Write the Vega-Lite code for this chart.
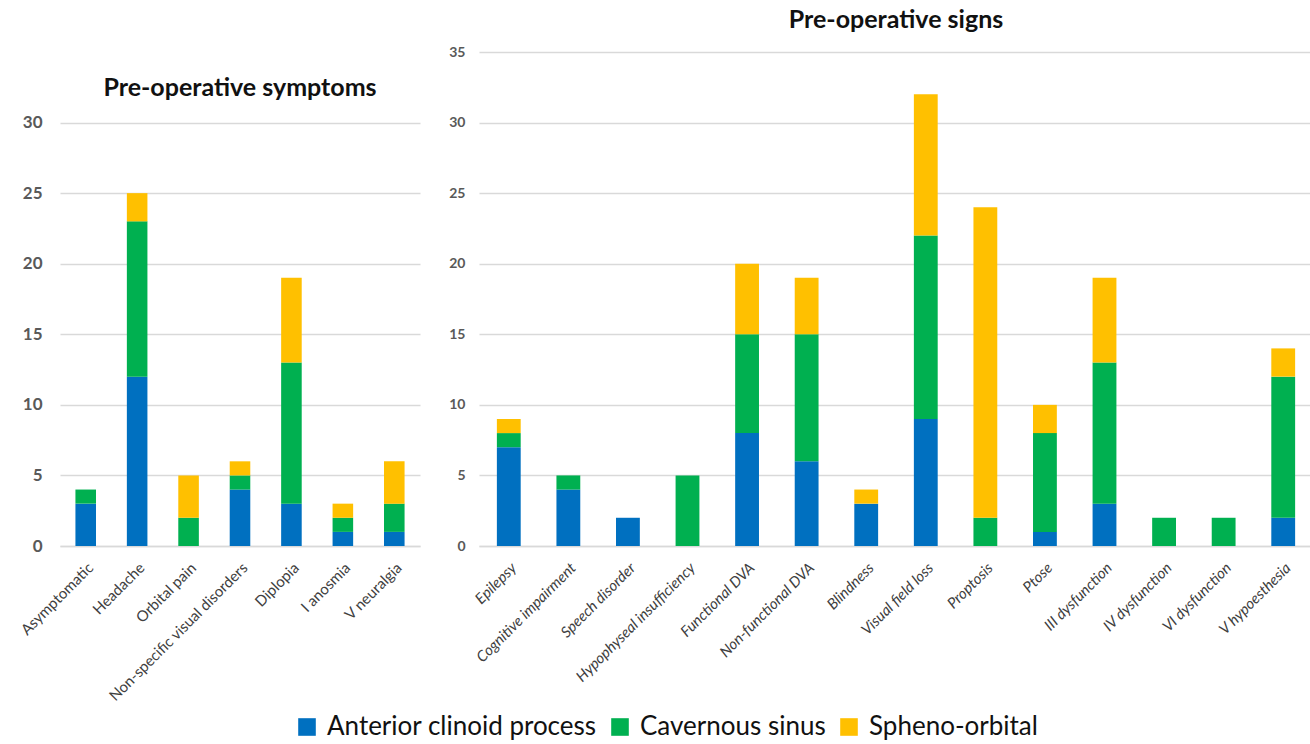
{
  "$schema": "https://vega.github.io/schema/vega-lite/v6.json",
  "background": "white",
  "padding": {"left": 18, "top": 8, "right": 0, "bottom": 0},
  "datasets": {
    "symptoms": [
      {"item": "Asymptomatic", "location": "Anterior clinoid process", "n": 3},
      {"item": "Asymptomatic", "location": "Cavernous sinus", "n": 1},
      {"item": "Asymptomatic", "location": "Spheno-orbital", "n": 0},
      {"item": "Headache", "location": "Anterior clinoid process", "n": 12},
      {"item": "Headache", "location": "Cavernous sinus", "n": 11},
      {"item": "Headache", "location": "Spheno-orbital", "n": 2},
      {"item": "Orbital pain", "location": "Anterior clinoid process", "n": 0},
      {"item": "Orbital pain", "location": "Cavernous sinus", "n": 2},
      {"item": "Orbital pain", "location": "Spheno-orbital", "n": 3},
      {"item": "Non-specific visual disorders", "location": "Anterior clinoid process", "n": 4},
      {"item": "Non-specific visual disorders", "location": "Cavernous sinus", "n": 1},
      {"item": "Non-specific visual disorders", "location": "Spheno-orbital", "n": 1},
      {"item": "Diplopia", "location": "Anterior clinoid process", "n": 3},
      {"item": "Diplopia", "location": "Cavernous sinus", "n": 10},
      {"item": "Diplopia", "location": "Spheno-orbital", "n": 6},
      {"item": "I anosmia", "location": "Anterior clinoid process", "n": 1},
      {"item": "I anosmia", "location": "Cavernous sinus", "n": 1},
      {"item": "I anosmia", "location": "Spheno-orbital", "n": 1},
      {"item": "V neuralgia", "location": "Anterior clinoid process", "n": 1},
      {"item": "V neuralgia", "location": "Cavernous sinus", "n": 2},
      {"item": "V neuralgia", "location": "Spheno-orbital", "n": 3}
    ],
    "signs": [
      {"item": "Epilepsy", "location": "Anterior clinoid process", "n": 7},
      {"item": "Epilepsy", "location": "Cavernous sinus", "n": 1},
      {"item": "Epilepsy", "location": "Spheno-orbital", "n": 1},
      {"item": "Cognitive impairment", "location": "Anterior clinoid process", "n": 4},
      {"item": "Cognitive impairment", "location": "Cavernous sinus", "n": 1},
      {"item": "Cognitive impairment", "location": "Spheno-orbital", "n": 0},
      {"item": "Speech disorder", "location": "Anterior clinoid process", "n": 2},
      {"item": "Speech disorder", "location": "Cavernous sinus", "n": 0},
      {"item": "Speech disorder", "location": "Spheno-orbital", "n": 0},
      {"item": "Hypophyseal insufficiency", "location": "Anterior clinoid process", "n": 0},
      {"item": "Hypophyseal insufficiency", "location": "Cavernous sinus", "n": 5},
      {"item": "Hypophyseal insufficiency", "location": "Spheno-orbital", "n": 0},
      {"item": "Functional DVA", "location": "Anterior clinoid process", "n": 8},
      {"item": "Functional DVA", "location": "Cavernous sinus", "n": 7},
      {"item": "Functional DVA", "location": "Spheno-orbital", "n": 5},
      {"item": "Non-functional DVA", "location": "Anterior clinoid process", "n": 6},
      {"item": "Non-functional DVA", "location": "Cavernous sinus", "n": 9},
      {"item": "Non-functional DVA", "location": "Spheno-orbital", "n": 4},
      {"item": "Blindness", "location": "Anterior clinoid process", "n": 3},
      {"item": "Blindness", "location": "Cavernous sinus", "n": 0},
      {"item": "Blindness", "location": "Spheno-orbital", "n": 1},
      {"item": "Visual field loss", "location": "Anterior clinoid process", "n": 9},
      {"item": "Visual field loss", "location": "Cavernous sinus", "n": 13},
      {"item": "Visual field loss", "location": "Spheno-orbital", "n": 10},
      {"item": "Proptosis", "location": "Anterior clinoid process", "n": 0},
      {"item": "Proptosis", "location": "Cavernous sinus", "n": 2},
      {"item": "Proptosis", "location": "Spheno-orbital", "n": 22},
      {"item": "Ptose", "location": "Anterior clinoid process", "n": 1},
      {"item": "Ptose", "location": "Cavernous sinus", "n": 7},
      {"item": "Ptose", "location": "Spheno-orbital", "n": 2},
      {"item": "III dysfunction", "location": "Anterior clinoid process", "n": 3},
      {"item": "III dysfunction", "location": "Cavernous sinus", "n": 10},
      {"item": "III dysfunction", "location": "Spheno-orbital", "n": 6},
      {"item": "IV dysfunction", "location": "Anterior clinoid process", "n": 0},
      {"item": "IV dysfunction", "location": "Cavernous sinus", "n": 2},
      {"item": "IV dysfunction", "location": "Spheno-orbital", "n": 0},
      {"item": "VI dysfunction", "location": "Anterior clinoid process", "n": 0},
      {"item": "VI dysfunction", "location": "Cavernous sinus", "n": 2},
      {"item": "VI dysfunction", "location": "Spheno-orbital", "n": 0},
      {"item": "V hypoesthesia", "location": "Anterior clinoid process", "n": 2},
      {"item": "V hypoesthesia", "location": "Cavernous sinus", "n": 10},
      {"item": "V hypoesthesia", "location": "Spheno-orbital", "n": 2}
    ]
  },
  "hconcat": [
    {
      "width": 360,
      "height": 494,
      "title": {"text": "Pre-operative symptoms", "offset": -49},
      "data": {"name": "symptoms"},
      "mark": {"type": "bar"},
      "encoding": {
        "x": {
          "field": "item",
          "type": "nominal",
          "sort": ["Asymptomatic", "Headache", "Orbital pain", "Non-specific visual disorders", "Diplopia", "I anosmia", "V neuralgia"],
          "scale": {"paddingInner": 0.6, "paddingOuter": 0.3},
          "axis": {"title": null, "labelAngle": -45, "labelFontSize": 15, "labelFontWeight": "normal", "labelColor": "#404040", "labelLimit": 0}
        },
        "y": {
          "field": "n",
          "type": "quantitative",
          "stack": "zero",
          "scale": {"domain": [0, 35], "nice": false},
          "axis": {"title": null, "values": [0, 5, 10, 15, 20, 25, 30], "labelFontSize": 17, "labelPadding": 18}
        },
        "color": {
          "field": "location",
          "type": "nominal",
          "scale": {
            "domain": ["Anterior clinoid process", "Cavernous sinus", "Spheno-orbital"],
            "range": ["#0070C0", "#00B050", "#FFC000"]
          },
          "legend": {"title": null}
        },
        "order": {"field": "location", "sort": "ascending"}
      }
    },
    {
      "width": 834,
      "height": 494,
      "title": {"text": "Pre-operative signs", "offset": 12},
      "data": {"name": "signs"},
      "mark": {"type": "bar"},
      "encoding": {
        "x": {
          "field": "item",
          "type": "nominal",
          "sort": ["Epilepsy", "Cognitive impairment", "Speech disorder", "Hypophyseal insufficiency", "Functional DVA", "Non-functional DVA", "Blindness", "Visual field loss", "Proptosis", "Ptose", "III dysfunction", "IV dysfunction", "VI dysfunction", "V hypoesthesia"],
          "scale": {"paddingInner": 0.6, "paddingOuter": 0.3},
          "axis": {"title": null, "labelAngle": -45, "labelFontSize": 15, "labelFontStyle": "italic", "labelFontWeight": "normal", "labelColor": "#404040", "labelLimit": 0}
        },
        "y": {
          "field": "n",
          "type": "quantitative",
          "stack": "zero",
          "scale": {"domain": [0, 35], "nice": false},
          "axis": {"title": null, "values": [0, 5, 10, 15, 20, 25, 30, 35], "labelFontSize": 14, "labelPadding": 14}
        },
        "color": {
          "field": "location",
          "type": "nominal",
          "scale": {
            "domain": ["Anterior clinoid process", "Cavernous sinus", "Spheno-orbital"],
            "range": ["#0070C0", "#00B050", "#FFC000"]
          },
          "legend": {"title": null}
        },
        "order": {"field": "location", "sort": "ascending"}
      }
    }
  ],
  "spacing": 28,
  "config": {
    "font": "Lato",
    "view": {"stroke": null},
    "title": {"fontSize": 25, "fontWeight": "bold", "color": "#111111", "anchor": "middle"},
    "axis": {
      "labelColor": "#595959",
      "labelFontWeight": "bold",
      "ticks": false,
      "gridColor": "#d9d9d9",
      "gridWidth": 1.5,
      "domainColor": "#d9d9d9",
      "domainWidth": 1.5
    },
    "axisX": {"grid": false, "labelPadding": 14},
    "axisY": {"domain": false},
    "legend": {
      "orient": "bottom",
      "direction": "horizontal",
      "labelFontSize": 26,
      "labelLimit": 0,
      "labelColor": "#111111",
      "symbolType": "square",
      "symbolSize": 310,
      "symbolStrokeWidth": 0,
      "symbolOpacity": 1,
      "columnPadding": 10,
      "labelOffset": 7,
      "offset": 10,
      "layout": {"bottom": {"anchor": "middle"}}
    }
  }
}
